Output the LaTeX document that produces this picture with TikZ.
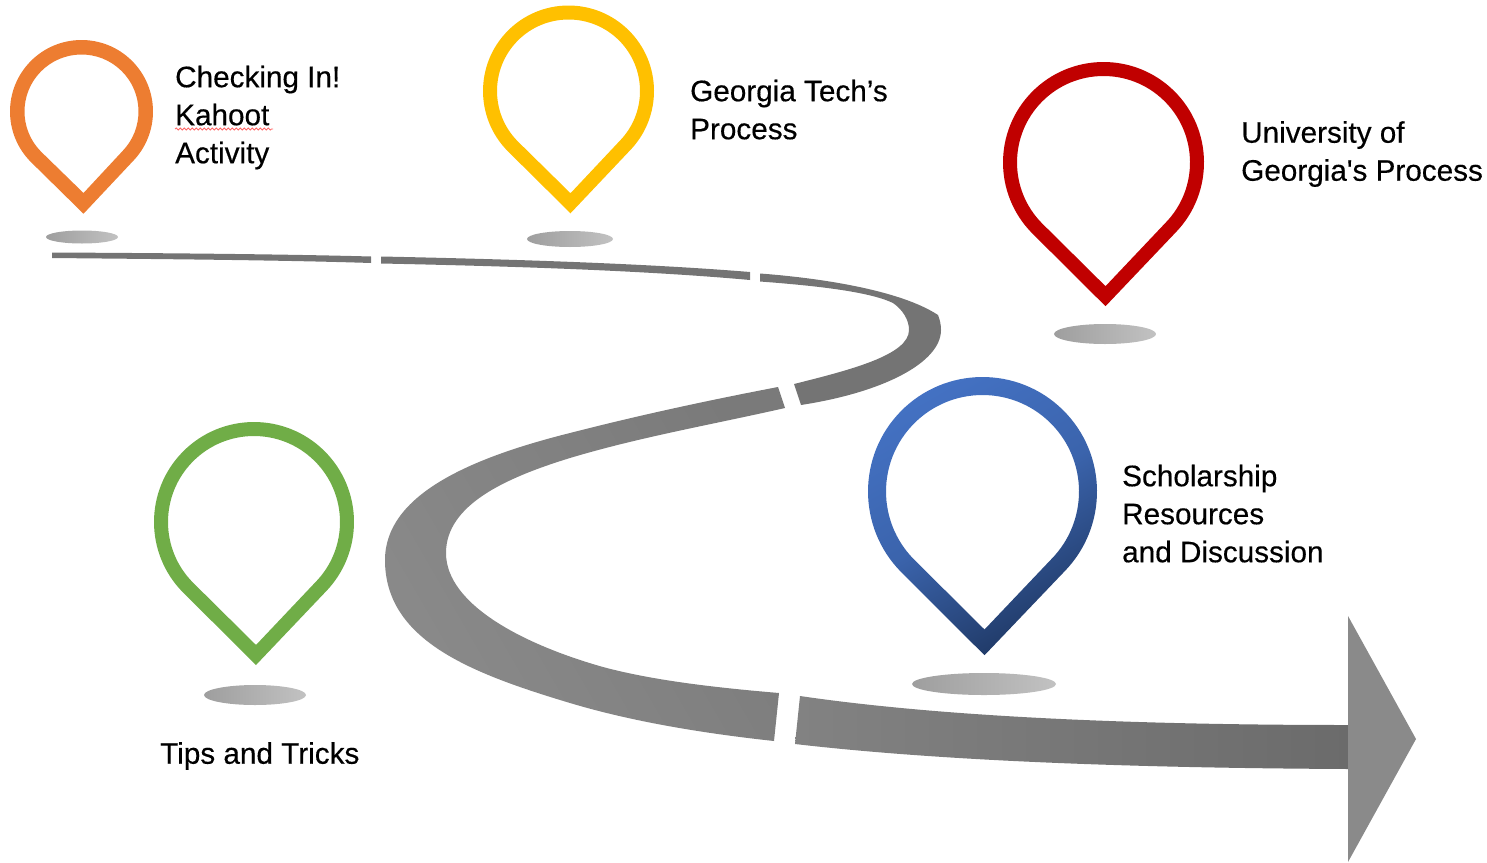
\documentclass[tikz,border=0pt]{standalone}
\usepackage{fontspec}
\setmainfont{Liberation Sans}[Ligatures=TeXOff,FakeBold=0.35]
\usetikzlibrary{decorations.pathmorphing}
\definecolor{pinorange}{HTML}{ED7D31}
\definecolor{pinyellow}{HTML}{FFC000}
\definecolor{pinred}{HTML}{C00000}
\definecolor{pingreen}{HTML}{70AD47}
\definecolor{pinblue}{HTML}{4472C4}
\definecolor{pinnavy}{HTML}{1F3864}
\definecolor{road}{HTML}{747474}
\tikzset{
  label text/.style={anchor=north west,inner sep=0pt,align=left,text=black,font=\fontsize{29.7}{38}\selectfont},
  shadow disc/.style={left color=black!38,right color=black!24,draw=none},
  road seg/.style={fill=road,draw=none},
}
% #1 cx, #2 cy, #3 R, #4 ring thickness, #5 fill options
\newcommand\pinmark[5]{%
  \begin{scope}[x=1pt,y=1pt,shift={(#1pt,-#2pt)}]
    \path[#5,even odd rule]
      (2,{-1.43*#3}) -- (-44.5:#3) arc[start angle=-44.5,end angle=224.5,radius=#3] -- cycle
      (2,{-1.43*(#3-#4)}) -- (-44.5:{#3-#4}) arc[start angle=-44.5,end angle=224.5,radius={#3-#4}] -- cycle;
  \end{scope}}
\begin{document}
\begin{tikzpicture}[x=1pt,y=-1pt]
\useasboundingbox (0,0) rectangle (1487,862);
% road
\fill[road seg] (52,252.5) .. controls (150,253) and (280,254) .. (371,256.5) -- (371,263) .. controls (280,260) and (150,259) .. (52,258) -- cycle;
\fill[road seg] (381,256.5) .. controls (500,259) and (640,263) .. (750,272) -- (750,280) .. controls (640,270) and (500,266) .. (381,263.5) -- cycle;
\fill[road seg] (760,273.5) .. controls (820,278) and (900,290) .. (938,315) .. controls (940,320) and (941,325) .. (941,330)
   .. controls (941,362) and (885,392) .. (801,405) -- (794,384)
   .. controls (850,370) and (909,355) .. (909,330) .. controls (909,320) and (903,310) .. (893,303)
   .. controls (870,292) and (820,286) .. (760,281.5) -- cycle;
\shade[left color=black!46,right color=black!52,shading angle=120]
   (778,387) .. controls (710,400) and (640,415) .. (570,433) .. controls (470,458) and (385,495) .. (385,560)
   .. controls (385,640) and (470,673) .. (570,703) .. controls (630,721) and (700,733) .. (774,741)
   -- (779,693) .. controls (720,688) and (655,681) .. (603,667) .. controls (525,645) and (446,605) .. (446,553)
   .. controls (446,505) and (505,478) .. (570,458) .. controls (640,437) and (710,425) .. (785,408) -- cycle;
\shade[left color=black!49,right color=black!58] (800,696) .. controls (950,718) and (1150,725) .. (1348,725) -- (1348,769) .. controls (1150,768) and (950,762) .. (795,744) -- cycle;
\fill[black!46] (1348,616) -- (1416,739) -- (1348,862) -- cycle;
% shadows
\shade[shadow disc] (82,237) ellipse[x radius=36,y radius=6.5];
\shade[shadow disc] (570,239) ellipse[x radius=43,y radius=8];
\shade[shadow disc] (1105,334) ellipse[x radius=51,y radius=10];
\shade[shadow disc] (984,684) ellipse[x radius=72,y radius=11];
\shade[shadow disc] (255,695) ellipse[x radius=51,y radius=10];
% pins
\pinmark{81.5}{111.5}{71.5}{14.5}{fill=pinorange}
\pinmark{568.5}{91}{85.5}{14}{fill=pinyellow}
\pinmark{1103.5}{162.5}{100.5}{14}{fill=pinred}
\pinmark{254}{522}{100}{14}{fill=pingreen}
\pinmark{982.5}{491.5}{114.5}{18}{shade,top color=pinblue,bottom color=pinnavy,middle color=pinblue!75!pinnavy,shading angle=30}
% labels
\node[label text] (checking) at (175,65.5) {Checking In!\\Kahoot\\Activity};
\draw[red!60!white,line width=0.8pt,decorate,decoration={snake,amplitude=1pt,segment length=4pt}] (checking.west |- 0,129) -- (273,129);
\node[label text] (tech) at (690,79.5) {Georgia Tech’s\\Process};
\node[label text] (uga) at (1241,121) {University of\\Georgia's Process};
\node[label text] (scholar) at (1122,464.5) {Scholarship\\Resources\\and Discussion};
\node[label text] (tips) at (160,742) {Tips and Tricks};
\end{tikzpicture}
\end{document}
